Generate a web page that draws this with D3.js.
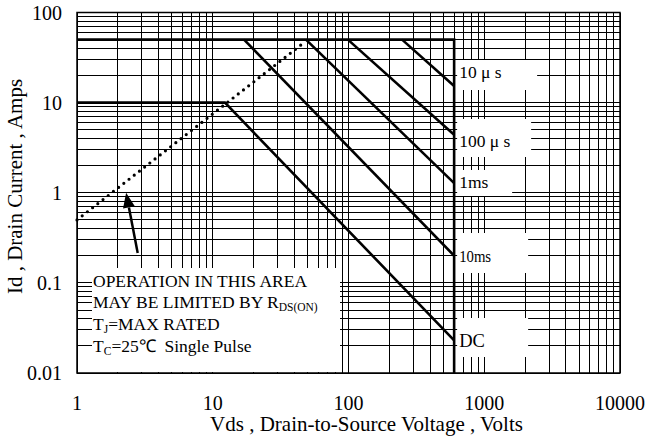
<!DOCTYPE html>
<html><head><meta charset="utf-8">
<script src="https://cdn.jsdelivr.net/npm/d3@7"></script>
<style>
html,body{margin:0;padding:0;background:#fff;}
svg{display:block;}
</style></head>
<body>
<svg id="c" width="647" height="444" font-family="'Liberation Serif', 'Times New Roman', serif"></svg>
<script>
// ---- data ----
const xTickValues = [1, 10, 100, 1000, 10000];
const xTickLabels = ["1", "10", "100", "1000", "10000"];
const yTickValues = [0.01, 0.1, 1, 10, 100];
const yTickLabels = ["0.01", "0.1", "1", "10", "100"];

// envelope: current limit 50 A and voltage limit 600 V
const limitV = [1, 600, 600];
const limitI = [50, 50, 0.01];
// DC curve
const dcV = [1, 12.3, 600];
const dcI = [10, 10, 0.023];
// pulse curves
const ms10V = [17, 600];
const ms10I = [50, 0.2];
const ms1V = [48.6, 600];
const ms1I = [50, 1.28];
const us100V = [99, 600];
const us100I = [50, 4.4];
const us10V = [248, 600];
const us10I = [50, 15.3];
// RDS(on) limit (dotted)
const rdsV = [1, 45];
const rdsI = [0.5, 44];
// arrow (tail -> tip)
const arrowV = [2.8, 2.3];
const arrowI = [0.214, 1.0];

const curveNames = ["10 \u03bc s", "100 \u03bc s", "1ms", "10ms", "DC"];

const svg = d3.select("#c");
const L = 77, R = 620, T = 12.5, B = 373;
const x = d3.scaleLog().domain([1, 10000]).range([L, R]);
const y = d3.scaleLog().domain([0.01, 100]).range([B, T]);

// grid
const g = svg.append("g").attr("shape-rendering", "crispEdges");
g.selectAll("line.v").data(x.ticks()).enter().append("line")
  .attr("x1", d => x(d)).attr("x2", d => x(d)).attr("y1", T).attr("y2", B)
  .attr("stroke", "#000").attr("stroke-width", 1);
g.selectAll("line.h").data(y.ticks()).enter().append("line")
  .attr("y1", d => y(d)).attr("y2", d => y(d)).attr("x1", L).attr("x2", R)
  .attr("stroke", "#000").attr("stroke-width", 1);

// white label boxes that hide the grid
const xe = x(600);
const boxes = [
  [xe + 3, 60, 80, 30],
  [xe + 3, 119, 74, 38],
  [xe + 3, 170, 55, 26],
  [xe + 3, 233, 71, 40],
  [xe + 3, 318, 71, 39]
];
svg.append("g").selectAll("rect").data(boxes).enter().append("rect")
  .attr("x", d => d[0]).attr("y", d => d[1]).attr("width", d => d[2]).attr("height", d => d[3])
  .attr("fill", "#fff");
// note box
svg.append("rect").attr("x", 92).attr("y", 268).attr("width", 248).attr("height", B - 268 - 1)
  .attr("fill", "#fff");

// frame
svg.append("path").attr("d", `M${L},${T}V${B}H${R}V${T}Z`)
  .attr("fill", "none").attr("stroke", "#000").attr("stroke-width", 1.5);

const line = d3.line().x(d => x(d[0])).y(d => y(d[1]));
const zipS = (a, b) => a.map((v, i) => [v, b[i]]);
const curves = [
  zipS(limitV, limitI), zipS(dcV, dcI), zipS(ms10V, ms10I),
  zipS(ms1V, ms1I), zipS(us100V, us100I), zipS(us10V, us10I)
];
svg.append("g").selectAll("path").data(curves).enter().append("path")
  .attr("d", line).attr("fill", "none").attr("stroke", "#000")
  .attr("stroke-width", 2.6).attr("stroke-linejoin", "miter");

// dotted RDS line
svg.append("path").attr("d", line(zipS(rdsV, rdsI)))
  .attr("fill", "none").attr("stroke", "#000").attr("stroke-width", 3.2)
  .attr("stroke-linecap", "round").attr("stroke-dasharray", "0,6.6");

// arrow
{
  const x1 = x(arrowV[0]), y1 = y(arrowI[0]), x2 = x(arrowV[1]), y2 = y(arrowI[1]);
  const ang = Math.atan2(y2 - y1, x2 - x1);
  const hl = 15, hw = 6;
  const bx = x2 - hl * Math.cos(ang), by = y2 - hl * Math.sin(ang);
  svg.append("line").attr("x1", x1).attr("y1", y1).attr("x2", bx).attr("y2", by)
    .attr("stroke", "#000").attr("stroke-width", 2.5);
  const px = -Math.sin(ang), py = Math.cos(ang);
  svg.append("path").attr("d", `M${x2},${y2}L${bx + px * hw},${by + py * hw}L${bx - px * hw},${by - py * hw}Z`)
    .attr("fill", "#000");
}

// curve labels
const labelY = [78, 147, 188, 262, 347];
const labelSize = [17.5, 17.5, 17.5, 17.5, 18.5];
const lab = svg.append("g").selectAll("text").data(curveNames).enter().append("text")
  .attr("x", xe + 5).attr("y", (d, i) => labelY[i])
  .attr("font-size", (d, i) => labelSize[i]).style("white-space", "pre").text(d => d);
lab.filter(d => d === "10ms").attr("textLength", 32).attr("lengthAdjust", "spacingAndGlyphs");

// note text
const note = svg.append("g").attr("font-size", 17.5);
note.append("text").attr("x", 93).attr("y", 287).text("OPERATION IN THIS AREA");
const n2 = note.append("text").attr("x", 93).attr("y", 308);
n2.append("tspan").text("MAY BE LIMITED BY R");
n2.append("tspan").attr("font-size", 11.5).attr("dy", 3).text("DS(ON)");
const n3 = note.append("text").attr("x", 93).attr("y", 330);
n3.append("tspan").text("T");
n3.append("tspan").attr("font-size", 11.5).attr("dy", 3).text("J");
n3.append("tspan").attr("dy", -3).text("=MAX RATED");
const n4 = note.append("text").attr("x", 93).attr("y", 352).style("white-space", "pre");
n4.append("tspan").text("T");
n4.append("tspan").attr("font-size", 11.5).attr("dy", 3).text("C");
n4.append("tspan").attr("dy", -3).text("=25\u2103  Single Pulse");

// tick labels
svg.append("g").selectAll("text").data(xTickValues).enter().append("text")
  .attr("x", d => x(d)).attr("y", 410).attr("text-anchor", "middle").attr("font-size", 20)
  .text((d, i) => xTickLabels[i]);
svg.append("g").selectAll("text").data(yTickValues).enter().append("text")
  .attr("x", 62).attr("y", d => y(d) + 7).attr("text-anchor", "end").attr("font-size", 20)
  .text((d, i) => yTickLabels[i]);

// axis titles
svg.append("text").attr("x", 366.5).attr("y", 431).attr("text-anchor", "middle").attr("font-size", 21)
  .text("Vds , Drain-to-Source Voltage , Volts");
svg.append("text").attr("transform", "translate(22,186.5) rotate(-90)").attr("text-anchor", "middle")
  .attr("font-size", 21).text("Id , Drain Current , Amps");
</script>
</body></html>
